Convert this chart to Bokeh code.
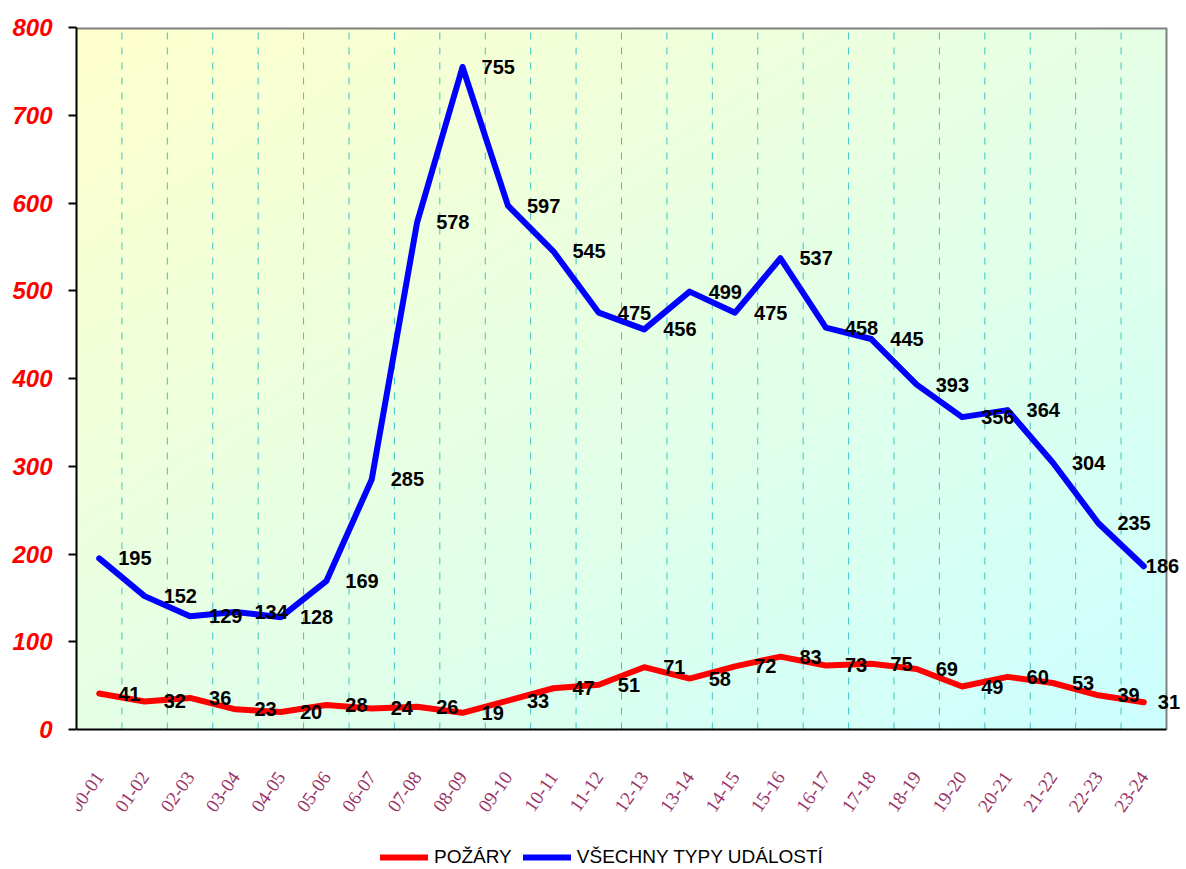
import math
import numpy as np
from bokeh.plotting import figure
from bokeh.models import (ColumnDataSource, LabelSet, FixedTicker, Range1d,
                          Legend, LegendItem)
from bokeh.core.properties import value
from bokeh.embed import file_html
from bokeh.resources import INLINE

# ---- data ----
categories = ["00-01", "01-02", "02-03", "03-04", "04-05", "05-06", "06-07",
              "07-08", "08-09", "09-10", "10-11", "11-12", "12-13", "13-14",
              "14-15", "15-16", "16-17", "17-18", "18-19", "19-20", "20-21",
              "21-22", "22-23", "23-24"]
pozary = [41, 32, 36, 23, 20, 28, 24, 26, 19, 33, 47, 51, 71, 58, 72, 83,
          73, 75, 69, 49, 60, 53, 39, 31]
vsechny = [195, 152, 129, 134, 128, 169, 285, 578, 755, 597, 545, 475, 456,
           499, 475, 537, 458, 445, 393, 356, 364, 304, 235, 186]
y_ticks = [0, 100, 200, 300, 400, 500, 600, 700, 800]
series_names = ["POŽÁRY", "VŠECHNY TYPY UDÁLOSTÍ"]

n = len(categories)
xs = list(range(n))
y_max = y_ticks[-1]

PLOT_W = 1090            # chart area width in px
PLOT_H = 702             # chart area height in px
BELOW = 140              # room below the chart area (labels + legend)
EXTRA = 20               # extra room right of the chart area for last labels
unit_x = PLOT_W / n
unit_y = PLOT_H / y_max
x_end = n - 0.5 + EXTRA / unit_x
y_start = -BELOW / unit_y

p = figure(frame_width=PLOT_W + EXTRA, frame_height=PLOT_H + BELOW,
           output_backend="svg", toolbar_location=None,
           x_range=Range1d(-0.5, x_end), y_range=Range1d(y_start, y_max),
           min_border_left=76, min_border_right=0, min_border_top=27,
           min_border_bottom=0)
p.background_fill_color = "white"
p.border_fill_color = "white"
p.outline_line_color = None

# gradient background of the chart area
H, W = 128, 256
u = np.linspace(0, 1, W)[None, :]
v = np.linspace(0, 1, H)[:, None]  # 0 = bottom row
t = np.clip((u + (1 - v)) / 2.0, 0, 1)
c0 = np.array([255, 255, 204])
c1 = np.array([204, 255, 255])
img = np.empty((H, W), dtype=np.uint32)
view = img.view(dtype=np.uint8).reshape((H, W, 4))
for k in range(3):
    view[:, :, k] = (c0[k] + (c1[k] - c0[k]) * t).astype(np.uint8)
view[:, :, 3] = 255
p.image_rgba(image=[img], x=-0.5, y=0, dw=n, dh=y_max, level="image")

# vertical dashed grid lines between categories (only inside the chart area)
p.xgrid.visible = False
p.ygrid.visible = False
bounds_x = [i + 0.5 for i in range(n - 1)]
p.segment(x0=bounds_x, x1=bounds_x, y0=[0] * len(bounds_x),
          y1=[y_max] * len(bounds_x), line_color="#3CC4C4", line_width=1,
          line_dash="7 8")

# chart-area border (top and right, gray)
p.segment(x0=[-0.5], x1=[n - 0.5], y0=[y_max], y1=[y_max],
          line_color="#808080", line_width=4)
p.segment(x0=[n - 0.5], x1=[n - 0.5], y0=[0], y1=[y_max],
          line_color="#808080", line_width=2)

# lines
r_red = p.line(xs, pozary, line_color="#FF0000", line_width=6,
               line_join="round", line_cap="round")
r_blue = p.line(xs, vsechny, line_color="#0000FF", line_width=6,
                line_join="round", line_cap="round")

# data labels
def offsets(last):
    return [19] * (n - 1) + [last]

src_red = ColumnDataSource(dict(x=xs, y=pozary, text=[str(v) for v in pozary],
                                xo=offsets(14)))
src_blue = ColumnDataSource(dict(x=xs, y=vsechny, text=[str(v) for v in vsechny],
                                 xo=offsets(2)))
for src in (src_red, src_blue):
    p.add_layout(LabelSet(x="x", y="y", text="text", source=src, x_offset="xo",
                          text_align="left", text_baseline="middle",
                          text_font=value("Liberation Sans"),
                          text_font_style=value("bold"),
                          text_font_size=value("20px"),
                          text_color=value("black")))

# y axis
p.yaxis.ticker = FixedTicker(ticks=y_ticks)
p.yaxis.bounds = (0, y_max)
p.yaxis.axis_line_color = "black"
p.yaxis.axis_line_width = 2
p.yaxis.major_tick_line_color = "black"
p.yaxis.major_tick_line_width = 2
p.yaxis.major_tick_out = 8
p.yaxis.major_tick_in = 0
p.yaxis.minor_tick_line_color = None
p.yaxis.major_label_standoff = 16
p.yaxis.major_label_text_font = "Liberation Sans"
p.yaxis.major_label_text_font_style = "bold italic"
p.yaxis.major_label_text_font_size = "24px"
p.yaxis.major_label_text_color = "#FF0000"

# x axis, drawn at y = 0
p.xaxis.fixed_location = 0
p.xaxis.ticker = FixedTicker(ticks=xs)
p.xaxis.bounds = (-0.5, n - 0.5)
p.xaxis.major_label_overrides = {i: c for i, c in enumerate(categories)}
p.xaxis.axis_line_color = "black"
p.xaxis.axis_line_width = 2
p.xaxis.major_tick_line_color = None
p.xaxis.major_tick_out = 0
p.xaxis.major_tick_in = 0
p.xaxis.minor_tick_line_color = None
p.xaxis.major_label_orientation = math.radians(55)
p.xaxis.major_label_standoff = 44
p.xaxis.major_label_text_font = "Liberation Serif"
p.xaxis.major_label_text_font_size = "19px"
p.xaxis.major_label_text_color = "#993366"

# legend at the bottom of the figure
legend = Legend(items=[LegendItem(label=series_names[0], renderers=[r_red]),
                       LegendItem(label=series_names[1], renderers=[r_blue])],
                orientation="horizontal", location=(304, 1),
                label_text_font="Liberation Sans", label_text_font_size="19px",
                label_text_color="black", glyph_width=48, glyph_height=20,
                label_standoff=6, spacing=11, padding=0, margin=0,
                border_line_color=None, background_fill_alpha=0)
p.add_layout(legend, "center")

open("out.html", "w").write(file_html(p, INLINE))
